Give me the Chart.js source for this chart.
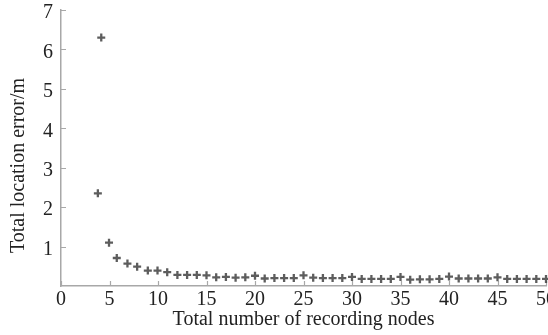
<!DOCTYPE html>
<html>
<head>
<meta charset="utf-8">
<script src="https://cdn.jsdelivr.net/npm/chart.js@4"></script>
<style>
  html, body { margin: 0; padding: 0; background: #fff; overflow: hidden; }
</style>
</head>
<body>
<canvas id="errChart" width="548" height="335"></canvas>
<script>
// data
const nodes = [3.8, 4.15, 4.95, 5.75, 6.85, 7.85, 8.95, 9.95, 10.95,
  12, 13, 14, 15, 16, 17, 18, 19, 20, 21, 22, 23, 24, 25, 26, 27, 28, 29, 30,
  31, 32, 33, 34, 35, 36, 37, 38, 39, 40, 41, 42, 43, 44, 45, 46, 47, 48, 49, 50];
const errors = [2.35, 6.3, 1.1, 0.71, 0.57, 0.49, 0.39, 0.39, 0.35,
  0.28, 0.28, 0.28, 0.27, 0.22, 0.23, 0.21, 0.22, 0.26, 0.19, 0.2, 0.2, 0.2, 0.27, 0.21, 0.2, 0.2, 0.2, 0.23,
  0.18, 0.18, 0.18, 0.18, 0.23, 0.16, 0.17, 0.17, 0.18, 0.24, 0.19, 0.19, 0.19, 0.19, 0.22, 0.18, 0.18, 0.18, 0.18, 0.18];
const xTicks = [0, 5, 10, 15, 20, 25, 30, 35, 40, 45, 50];
const yTicks = [1, 2, 3, 4, 5, 6, 7];

const axisColor = '#a8a8a8';
const font = { family: '"Liberation Serif", "Times New Roman", serif', size: 20 };

// small tick marks pointing into the plot
const innerTicks = {
  id: 'innerTicks',
  beforeDatasetsDraw(chart) {
    const { ctx, scales: { x, y } } = chart;
    ctx.save();
    ctx.strokeStyle = axisColor;
    ctx.lineWidth = 1.2;
    ctx.beginPath();
    xTicks.forEach(v => {
      const px = Math.round(x.getPixelForValue(v)) + 0.5;
      ctx.moveTo(px, y.bottom);
      ctx.lineTo(px, y.bottom - 5);
    });
    yTicks.forEach(v => {
      const py = Math.round(y.getPixelForValue(v)) + 0.5;
      ctx.moveTo(x.left, py);
      ctx.lineTo(x.left + 5, py);
    });
    ctx.stroke();
    ctx.restore();
  }
};

const ctx = document.getElementById('errChart').getContext('2d');
new Chart(ctx, {
  type: 'scatter',
  data: {
    datasets: [{
      data: nodes.map((n, i) => ({ x: n, y: errors[i] })),
      pointStyle: 'cross',
      pointRadius: 4,
      borderWidth: 2.3,
      borderColor: 'rgba(65,65,65,0.85)',
      backgroundColor: 'rgba(65,65,65,0.85)',
      clip: false
    }]
  },
  options: {
    responsive: false,
    animation: false,
    layout: { padding: 0, autoPadding: false },
    plugins: { legend: { display: false }, tooltip: { enabled: false } },
    scales: {
      x: {
        type: 'linear',
        min: 0, max: 50,
        afterBuildTicks: s => { s.ticks = xTicks.map(v => ({ value: v })); },
        afterFit: s => { s.height = 49; s.paddingRight = 2; },
        grid: { display: false, drawTicks: false },
        border: { color: axisColor, width: 1.5 },
        ticks: { color: '#222', font, padding: 2, maxRotation: 0 },
        title: { display: true, text: 'Total number of recording nodes', color: '#222', font, padding: { top: 0, bottom: 3 } }
      },
      y: {
        min: 0, max: 7,
        afterBuildTicks: s => { s.ticks = yTicks.map(v => ({ value: v })); },
        afterFit: s => { s.width = 61; s.paddingTop = 10; },
        grid: { display: false, drawTicks: false },
        border: { color: axisColor, width: 1.5 },
        ticks: { color: '#222', font, padding: 8, labelOffset: 3 },
        title: {
          display: true,
          // trailing spaces push the rotated title a bit lower, as in the figure
          text: 'Total location error/m\u00a0\u00a0\u00a0\u00a0\u00a0\u00a0\u00a0',
          color: '#222', font, padding: { top: 7, bottom: 0 }
        }
      }
    }
  },
  plugins: [innerTicks]
});
</script>
</body>
</html>
